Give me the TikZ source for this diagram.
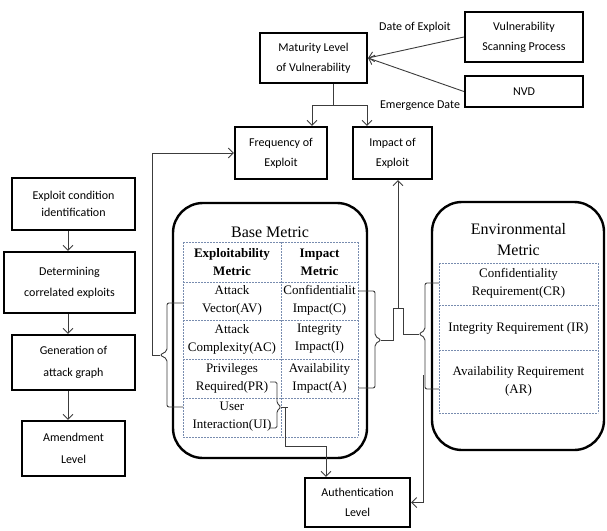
\documentclass[tikz,border=0pt]{standalone}
\usepackage{fontspec}
\setmainfont{Liberation Serif}
\newfontfamily\calfont{Carlito}
\usetikzlibrary{arrows.meta}
\definecolor{conncol}{RGB}{60,60,60}
\definecolor{dashcol}{RGB}{120,140,175}
\tikzset{
  box/.style={draw=black, line width=2.2pt, align=center, inner sep=0pt,
    font=\calfont\fontsize{12}{20}\selectfont},
  metricbox/.style={draw=black, line width=2.4pt, rounded corners=30pt, inner sep=0pt},
  conn/.style={draw=conncol, line width=0.9pt},
  arr/.style={conn, -{Straight Barb[length=5pt,width=10pt]}},
  lbl/.style={font=\calfont\fontsize{12}{14}\selectfont, inner sep=0pt},
  cell/.style={align=center, inner sep=0pt, font=\fontsize{13}{18}\selectfont},
  grid/.style={draw=dashcol, line width=0.6pt, dash pattern=on 2pt off 1pt},
  ttl/.style={align=center, inner sep=0pt, font=\fontsize{16}{21}\selectfont}
}
\begin{document}
\begin{tikzpicture}[x=1pt,y=-1pt]
\useasboundingbox (0,0) rectangle (607,530);
% top boxes
\node[box, minimum width=107pt, minimum height=50pt] (mat) at (313.5,58) {Maturity Level\\of Vulnerability};
\node[box, minimum width=118pt, minimum height=50pt] (vsp) at (524,37) {Vulnerability\\Scanning Process};
\node[box, minimum width=118pt, minimum height=31pt] (nvd) at (524,91.5) {NVD};
\node[box, minimum width=92pt, minimum height=52pt] (freq) at (281,153) {Frequency of\\Exploit};
\node[box, minimum width=79pt, minimum height=52pt] (imp) at (392.5,153) {Impact of\\Exploit};
% left column
\node[box, minimum width=123pt, minimum height=52pt, font=\calfont\fontsize{12}{17}\selectfont] (eci) at (73.5,204) {Exploit condition\\identification};
\node[box, minimum width=131pt, minimum height=61pt, font=\calfont\fontsize{12}{21}\selectfont] (dce) at (69.5,282.5) {Determining\\correlated exploits};
\node[box, minimum width=123pt, minimum height=55pt, font=\calfont\fontsize{12}{22}\selectfont] (gen) at (73.5,362.5) {Generation of\\attack graph};
\node[box, minimum width=103pt, minimum height=55pt, font=\calfont\fontsize{12}{22}\selectfont] (amd) at (73.5,448.5) {Amendment\\Level};
\node[box, minimum width=105pt, minimum height=49pt] (auth) at (357.5,502.5) {Authentication\\Level};
% labels
\node[lbl] (ldate) at (415,27) {Date of Exploit};
\node[lbl] (lemer) at (420,106) {Emergence Date};
% metric containers
\node[metricbox, minimum width=194pt, minimum height=255pt] (base) at (270,330.5) {};
\node[metricbox, minimum width=172pt, minimum height=248pt] (env) at (518,326) {};
\node[ttl] (basettl) at (270,232) {Base Metric};
\node[ttl] (envttl) at (518.5,240) {Environmental\\Metric};
% base table grid
\foreach \yy in {242,282,320,359,398,437} \draw[grid] (183,\yy) -- (358,\yy);
\foreach \xx in {183,281,358} \draw[grid] (\xx,242) -- (\xx,437);
% env table grid
\foreach \yy in {263,305,350,413} \draw[grid] (439,\yy) -- (598,\yy);
\foreach \xx in {439,598} \draw[grid] (\xx,263) -- (\xx,413);
% base table cells
\node[cell, font=\bfseries\fontsize{13}{18}\selectfont] (hexp) at (232,262) {Exploitability\\Metric};
\node[cell, font=\bfseries\fontsize{13}{18}\selectfont] (himp) at (319.5,262) {Impact\\Metric};
\node[cell] (av) at (232,300) {Attack\\Vector(AV)};
\node[cell] (ci) at (319.5,300) {Confidentialit\\Impact(C)};
\node[cell] (ac) at (232,339) {Attack\\Complexity(AC)};
\node[cell] (ii) at (319.5,339) {Integrity\\Impact(I)};
\node[cell] (pr) at (232,378) {Privileges\\Required(PR)};
\node[cell] (ai) at (319.5,378) {Availability\\Impact(A)};
\node[cell] (ui) at (232,417) {User\\Interaction(UI)};
% env table cells
\node[cell] (cr) at (518.5,283) {Confidentiality\\Requirement(CR)};
\node[cell] (ir) at (518.5,328) {Integrity Requirement (IR)};
\node[cell] (ar) at (518.5,381) {Availability Requirement\\(AR)};
% coordinates
\coordinate (mx) at (333,105);
\coordinate (f1) at (312,105);
\coordinate (i1) at (367,105);
\coordinate (lx) at (68,0);
\coordinate (eb) at (160,355);
\coordinate (c1) at (152,355);
\coordinate (ib) at (381,340);
\coordinate (ib2) at (393,340);
\coordinate (bump) at (398,308);
\coordinate (envtip) at (419,334);
\coordinate (ea) at (423,375);
\coordinate (ut) at (281,407);
\coordinate (ud) at (285,407);
\coordinate (ax) at (326,446);
% connectors top
\draw[arr] (vsp.west) -- (mat.east);
\draw[arr] (nvd.west) -- (mat.east);
\draw[conn] (mat.south -| mx) -- (mx);
\draw[arr] (mx) -- (f1) -- (f1 |- freq.north);
\draw[arr] (mx) -- (i1) -- (i1 |- imp.north);
% left column arrows
\draw[arr] (eci.south -| lx) -- (dce.north -| lx);
\draw[arr] (dce.south -| lx) -- (gen.north -| lx);
\draw[arr] (gen.south -| lx) -- (amd.north -| lx);
% exploitability brace
\draw[conn, rounded corners=2pt] (183,303) -- (167,303) -- (167,351) -- (eb) -- (167,359) -- (167,407) -- (183,407);
\draw[arr] (eb) -- (c1) |- (freq.west);
% impact brace
\draw[conn, rounded corners=2pt] (358,291) -- (375,291) -- (375,336) -- (ib) -- (375,344) -- (375,388) -- (358,388);
\draw[conn] (ib) -- (ib2) -- (393,308) -- (403,308) -- (403,334) -- (envtip);
\draw[arr] (bump) -- (bump |- imp.south);
% env brace
\draw[conn, rounded corners=2pt] (439,283) -- (425,283) -- (425,330) -- (envtip) -- (425,338) -- (425,389) -- (439,389);
\draw[arr] (ea) |- (auth.east);
% UI brace
\draw[conn, rounded corners=1.5pt] (270,382) -- (277,382) -- (277,403) -- (ut) -- (277,411) -- (277,428) -- (270,428);
\draw[conn] (ut) -- (288,407);
\draw[arr] (ud) |- (ax) -- (ax |- auth.north);
\end{tikzpicture}
\end{document}
